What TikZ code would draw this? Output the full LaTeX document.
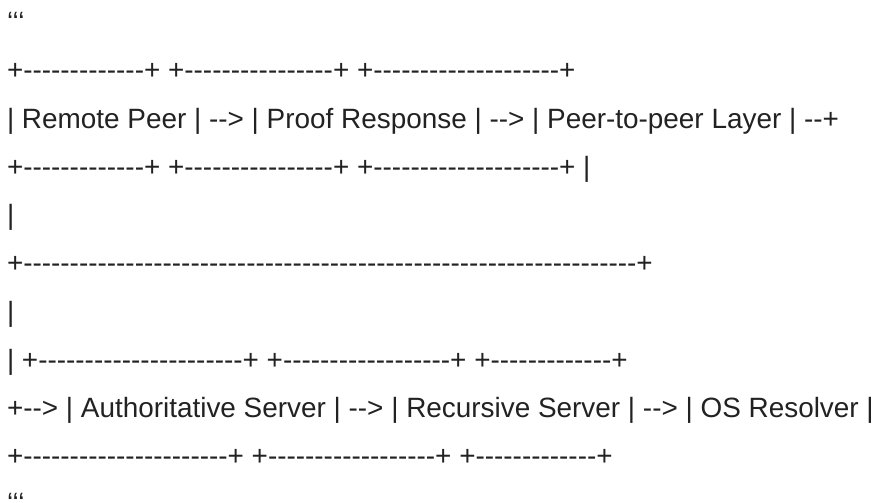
\documentclass[tikz,border=0pt]{standalone}
\usepackage{fontspec}
\setmainfont{Liberation Sans}
\newcommand\dashes[1]{\foreach \i in {1,...,#1}{-\kern0pt}}
\newcommand\bx[1]{+\dashes{#1}+}
\definecolor{ink}{HTML}{222222}
\begin{document}
\begin{tikzpicture}[x=1pt,y=-1pt,
  asciiline/.style={anchor=base west,inner sep=0pt,outer sep=0pt,text=ink,
    font=\fontsize{27.9}{33}\selectfont}]
\useasboundingbox[fill=white] (0,0) rectangle (876,503);
\def\lx{7}
\node[asciiline] (l1) at (\lx,32) {‘‘‘};
\node[asciiline] (l2) at (\lx,80.0) {\bx{13} \bx{16} \bx{20}};
\node[asciiline] (l3) at (\lx,128.2) {| Remote Peer | \dashes{2}> | Proof Response | \dashes{2}> | Peer-to-peer Layer | \dashes{2}+};
\node[asciiline] (l4) at (\lx,176.4) {\bx{13} \bx{16} \bx{20} |};
\node[asciiline] (l5) at (\lx,224.6) {|};
\node[asciiline] (l6) at (\lx,272.8) {\bx{66}};
\node[asciiline] (l7) at (\lx,321.0) {|};
\node[asciiline] (l8) at (\lx,369.2) {| \bx{22} \bx{18} \bx{13}};
\node[asciiline] (l9) at (\lx,417.4) {+\dashes{2}> | Authoritative Server | \dashes{2}> | Recursive Server | \dashes{2}> | OS Resolver |};
\node[asciiline] (l10) at (\lx,465.6) {\bx{22} \bx{18} \bx{13}};
\node[asciiline] (l11) at (\lx,512) {‘‘‘};
\end{tikzpicture}
\end{document}
